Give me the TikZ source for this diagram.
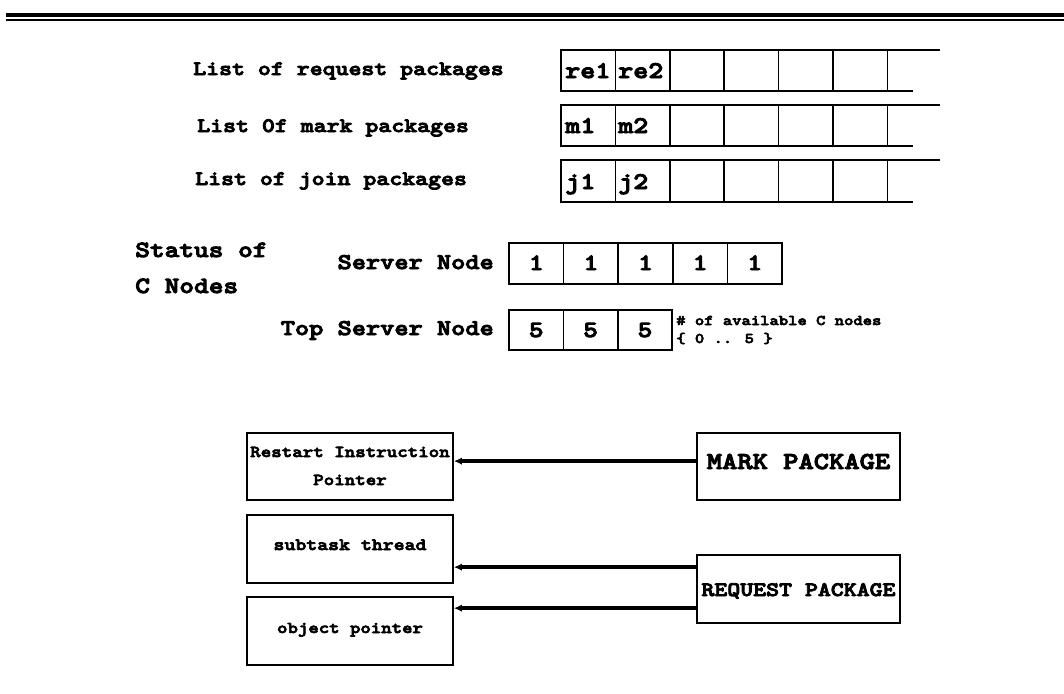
\documentclass[tikz,border=0pt]{standalone}
\usepackage{fontspec}
\setmainfont{lmmonolt10-bold.otf}[FakeBold=4, FakeStretch=1.2]
\usetikzlibrary{arrows.meta, fit}

\tikzset{
  x=0.75pt, y=-0.75pt,
  frame/.style={line width=1.3pt},
  txt/.style={inner sep=0pt, anchor=base west},
  ctr/.style={inner sep=0pt, anchor=base},
  box/.style={draw, line width=1.3pt, inner sep=0pt},
  conn/.style={line width=2.6pt, -{Latex[length=6pt,width=5.5pt]}},
}

\newcommand\fs[1]{\fontsize{#1}{#1}\selectfont}

\begin{document}
\begin{tikzpicture}
\useasboundingbox (0,0) rectangle (1064,693);

% heading rule
\draw[line width=2.4pt] (6,15) -- (1064,15);
\draw[line width=1.8pt] (6,20) -- (1064,20);

% package lists
\node[txt, font=\fs{15.4pt}] (lreq)  at (193,75)  {List of request packages};
\node[txt, font=\fs{15.4pt}] (lmark) at (197,132) {List 0f mark packages};
\node[txt, font=\fs{15.4pt}] (ljoin) at (195,185) {List of join packages};

\foreach \yt/\yb in {50/91, 105/146, 160/202} {
  \draw[frame] (940,\yt) -- (561,\yt) -- (561,\yb) -- (913,\yb);
  \foreach \i in {1,...,6}
    \draw[frame] ({561+54.4*\i},\yt) -- ({561+54.4*\i},\yb);
}

\node[txt, font=\fs{17.9pt}] (re1) at (565,78)  {re1};
\node[txt, font=\fs{17.9pt}] (re2) at (618,78)  {re2};
\node[txt, font=\fs{17.9pt}] (m1)  at (565,133) {m1};
\node[txt, font=\fs{17.9pt}] (m2)  at (618,133) {m2};
\node[txt, font=\fs{17.9pt}] (j1)  at (565,189) {j1};
\node[txt, font=\fs{17.9pt}] (j2)  at (618,189) {j2};

% status of C nodes
\node[txt, font=\fs{17.5pt}] (st1) at (135,257) {Status of};
\node[txt, font=\fs{17.5pt}] (st2) at (135,293) {C Nodes};

\node[inner sep=0pt, anchor=base east, font=\fs{16.9pt}] (srv)  at (494,269) {Server Node};
\node[inner sep=0pt, anchor=base east, font=\fs{16.9pt}] (tsrv) at (494,335) {Top Server Node};

\foreach \i in {0,...,4} {
  \draw[frame] ({509+54.6*\i},243) rectangle ({509+54.6*(\i+1)},284);
  \node[ctr, font=\fs{17.5pt}] (s\i) at ({509+54.6*(\i+0.5)},270) {1};
}
\foreach \i in {0,...,2} {
  \draw[frame] ({509+54.4*\i},310) rectangle ({509+54.4*(\i+1)},350);
  \node[ctr, font=\fs{17.5pt}] (t\i) at ({509+54.4*(\i+0.5)},337) {5};
}
\node[txt, font=\fs{11.1pt}] (avail) at (676,325) {\# of available C nodes};
\node[txt, font=\fs{11.1pt}] (range) at (676,343) {\{ 0 .. 5 \}};

% package records
\node[box, fit={(247,433) (453,500)}] (restart) {};
\node[box, fit={(247,515) (453,583)}] (subtask) {};
\node[box, fit={(247,597) (453,665)}] (object)  {};
\node[box, fit={(697,433) (900,500)}] (mark)    {};
\node[box, fit={(697,555) (900,623)}] (request) {};

\node[ctr, font=\fs{12.5pt}] (restartA) at (350,457) {Restart Instruction};
\node[ctr, font=\fs{12.5pt}] (restartB) at (350,485) {Pointer};
\node[ctr, font=\fs{13pt}]   (subtaskT) at (350,550) {subtask thread};
\node[ctr, font=\fs{12.4pt}] (objectT)  at (350,633) {object pointer};
\node[ctr, font=\fs{18.2pt}] (markT)    at (798.5,469) {MARK PACKAGE};
\node[ctr, font=\fs{15.4pt}] (requestT) at (798.5,596) {REQUEST PACKAGE};

% connectors
\path (mark.north west)    ++(0,29) coordinate (cm);
\path (request.north west) ++(0,13) coordinate (cr1);
\path (request.north west) ++(0,54) coordinate (cr2);
\draw[conn] (cm)  -- (cm  -| restart.east);
\draw[conn] (cr1) -- (cr1 -| subtask.east);
\draw[conn] (cr2) -- (cr2 -| object.east);
\end{tikzpicture}
\end{document}
